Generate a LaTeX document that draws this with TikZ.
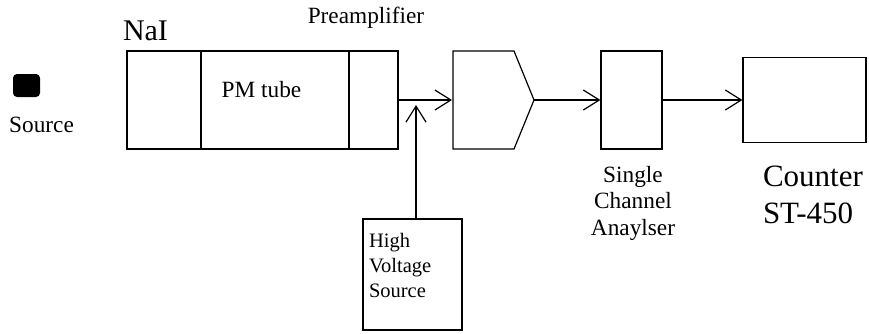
\documentclass[tikz,border=0pt]{standalone}
\usepackage{fontspec}
\setmainfont{Liberation Serif}
\usetikzlibrary{arrows.meta}
\begin{document}
\begin{tikzpicture}[x=1pt,y=-1pt, line width=1.2pt,
  box/.style={draw, rectangle, inner sep=0pt},
  lbl/.style={inner sep=0pt, outer sep=0pt},
  arr/.style={-{Straight Barb[length=16pt,width=20pt,line width=1.2pt]}},
  smallfont/.style={font=\fontsize{23.3}{26.5}\selectfont},
  hvfont/.style={font=\fontsize{20.5}{25}\selectfont},
  bigfont/.style={font=\fontsize{31}{37}\selectfont}]
\useasboundingbox (0,0) rectangle (869,333);
% source
\node[fill=black, rounded corners=4pt, minimum width=27pt, minimum height=23pt, inner sep=0pt] (src) at (26.5,85.5) {};
\node[lbl, smallfont, anchor=base] (srclbl) at (41.5,132) {Source};
% NaI + PM tube
\node[box, minimum width=271pt, minimum height=98pt] (nai) at (262.5,100) {};
\coordinate (d1) at (201,51); \coordinate (d2) at (349,51);
\draw (d1) -- (d1 |- nai.south);
\draw (d2) -- (d2 |- nai.south);
\node[lbl, font=\fontsize{30}{36}\selectfont, anchor=base west] (nailbl) at (123,40) {NaI};
\node[lbl, smallfont, anchor=base] (pmlbl) at (261.5,97) {PM tube};
\node[lbl, smallfont, anchor=base] (prelbl) at (366,23) {Preamplifier};
% preamplifier
\coordinate (pin) at (452,100);
\coordinate (pout) at (534,100);
\draw[line join=miter] (453,51) -- (514,51) -- (pout) -- (514,149) -- (453,149) -- cycle;
% single channel analyser
\node[box, minimum width=61pt, minimum height=98pt] (sca) at (631.5,100) {};
\node[lbl, smallfont, align=center, anchor=base] (scalbl) at (633,235) {Single\\Channel\\Anaylser};
% counter
\node[box, minimum width=123pt, minimum height=85pt] (cnt) at (804.5,100) {};
\node[lbl, bigfont, align=left, anchor=base west] (cntlbl) at (763,223) {Counter\\ST-450};
% high voltage
\node[box, minimum width=99pt, minimum height=111pt] (hv) at (412.5,274.5) {};
\node[lbl, hvfont, align=left, anchor=base west] (hvlbl) at (369,297) {High\\Voltage\\Source};
\coordinate (hvtip) at (416,105);
% connectors
\draw[arr] (nai.east) -- (pin);
\draw[arr] (pout) -- (sca.west);
\draw[arr] (sca.east) -- (cnt.west);
\draw[arr] (hv.north -| hvtip) -- (hvtip);
\end{tikzpicture}
\end{document}
